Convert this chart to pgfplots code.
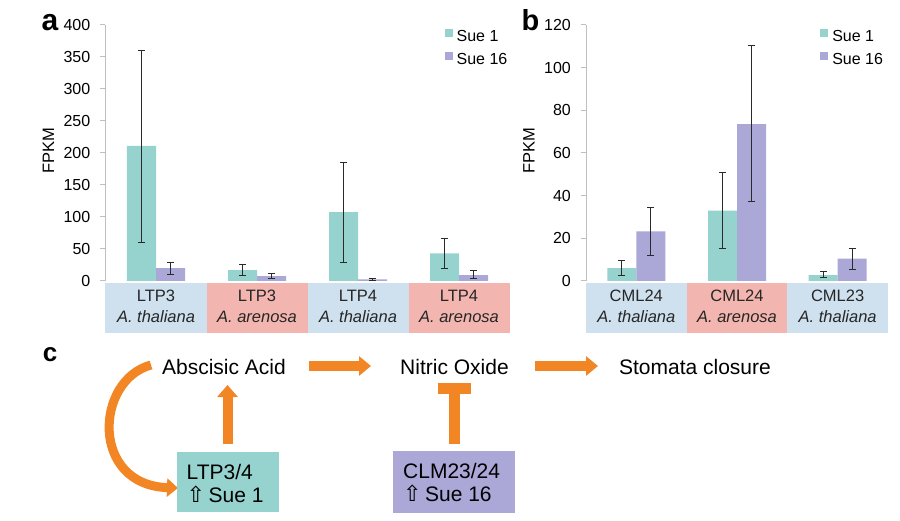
\documentclass[border=0pt]{standalone}
\usepackage{fontspec}
\setmainfont{Liberation Sans}
\newfontfamily\djv{DejaVu Sans}
\usepackage{pgfplots}
\usepackage{pgfplotstable}
\pgfplotsset{compat=1.18}
\usetikzlibrary{arrows.meta}
\definecolor{sueA}{HTML}{96D3CF}
\definecolor{sueB}{HTML}{ABA7D7}
\definecolor{bandB}{HTML}{CFE0EE}
\definecolor{bandP}{HTML}{F3B5B0}
\definecolor{orng}{HTML}{F28524}
\definecolor{axgray}{HTML}{BFBFBF}
\definecolor{errc}{HTML}{2A2A2A}

\pgfplotstableread{
x y ep em
0 211 150 150
1 17 9 9
2 107.5 78 79
3 43 24 23
}\aSueA
\pgfplotstableread{
x y ep em
0 20 9.4 9.4
1 7.5 3.8 2.8
2 2.6 1.6 1.6
3 9 7 4.3
}\aSueB
\pgfplotstableread{
x y ep em
0 6 3.4 3.2
1 33 18 17.7
2 2.8 1.9 1.3
}\bSueA
\pgfplotstableread{
x y ep em
0 23.3 11.1 11.2
1 73.5 37.1 36.3
2 10.5 4.7 5.3
}\bSueB

\newcommand{\catfont}{\fontsize{16.5}{21}\selectfont}
\pgfplotsset{
  panel/.style={
    scale only axis, height=256pt, ymin=0,
    axis x line=none, axis y line*=left,
    y axis line style={draw=axgray, line width=1pt, -},
    ytick style={draw=axgray, line width=1pt},
    major tick length=5pt, tick align=outside,
    /pgf/number format/assume math mode=true,
    every axis y label/.style={at={([xshift=-57pt]axis description cs:0,0.508)}, rotate=90, anchor=center, font=\fontsize{16.5}{20}\selectfont},
    ylabel={FPKM},
    ybar=0pt, bar width=29pt, clip=false,
    legend cell align=left,
    legend image code/.code={\fill[##1] (0pt,-0.5pt) rectangle (8pt,7.5pt);},
    legend style={anchor=north west, draw=none, fill=none, inner sep=0pt,
      font=\fontsize{16}{19}\selectfont, row sep=9pt, /tikz/column sep=4pt,
      nodes={inner sep=0pt}},
  },
  errs/.style={error bars/.cd, y dir=both, y explicit,
      error bar style={errc, line width=0.9pt},
      error mark options={errc, rotate=90, mark size=3.6pt, line width=0.9pt}},
}

\begin{document}
\begin{tikzpicture}
\useasboundingbox (0pt,0pt) rectangle (900pt,-521pt);

% ---------- panel a ----------
\begin{axis}[panel, at={(105.5pt,-281pt)}, anchor=south west, width=404pt,
  xmin=-0.5, xmax=3.5, ymax=400, ytick={0,50,...,400},
  every y tick label/.append style={font=\fontsize{16}{19}\selectfont, inner sep=0pt, xshift=-10pt},
  legend style={at={(0.839,0.984)}}]
\addplot[fill=sueA, draw=none, errs] table[x=x, y=y, y error plus=ep, y error minus=em]{\aSueA};
\addplot[fill=sueB, draw=none, errs] table[x=x, y=y, y error plus=ep, y error minus=em]{\aSueB};
\legend{Sue 1, Sue 16}
\fill[bandB] ([yshift=-2pt]axis cs:-0.5,0) rectangle ([yshift=-52pt]axis cs:0.5,0);
\fill[bandP] ([yshift=-2pt]axis cs:0.5,0) rectangle ([yshift=-52pt]axis cs:1.5,0);
\fill[bandB] ([yshift=-2pt]axis cs:1.5,0) rectangle ([yshift=-52pt]axis cs:2.5,0);
\fill[bandP] ([yshift=-2pt]axis cs:2.5,0) rectangle ([yshift=-52pt]axis cs:3.5,0);
\node[anchor=north, inner sep=0pt, align=center, font=\catfont, text=black!85] at ([yshift=-9pt]axis cs:0,0) {LTP3\\\textit{A. thaliana}};
\node[anchor=north, inner sep=0pt, align=center, font=\catfont, text=black!85] at ([yshift=-9pt]axis cs:1,0) {LTP3\\\textit{A. arenosa}};
\node[anchor=north, inner sep=0pt, align=center, font=\catfont, text=black!85] at ([yshift=-9pt]axis cs:2,0) {LTP4\\\textit{A. thaliana}};
\node[anchor=north, inner sep=0pt, align=center, font=\catfont, text=black!85] at ([yshift=-9pt]axis cs:3,0) {LTP4\\\textit{A. arenosa}};
\end{axis}

% ---------- panel b ----------
\begin{axis}[panel, at={(586pt,-281pt)}, anchor=south west, width=302pt,
  xmin=-0.5, xmax=2.5, ymax=120, ytick={0,20,...,120},
  every y tick label/.append style={font=\fontsize{16}{19}\selectfont, inner sep=0pt, xshift=-10pt},
  legend style={at={(0.775,0.984)}}]
\addplot[fill=sueA, draw=none, errs] table[x=x, y=y, y error plus=ep, y error minus=em]{\bSueA};
\addplot[fill=sueB, draw=none, errs] table[x=x, y=y, y error plus=ep, y error minus=em]{\bSueB};
\legend{Sue 1, Sue 16}
\fill[bandB] ([yshift=-2pt]axis cs:-0.5,0) rectangle ([yshift=-52pt]axis cs:0.5,0);
\fill[bandP] ([yshift=-2pt]axis cs:0.5,0) rectangle ([yshift=-52pt]axis cs:1.5,0);
\fill[bandB] ([yshift=-2pt]axis cs:1.5,0) rectangle ([yshift=-52pt]axis cs:2.5,0);
\node[anchor=north, inner sep=0pt, align=center, font=\catfont, text=black!85] at ([yshift=-9pt]axis cs:0,0) {CML24\\\textit{A. thaliana}};
\node[anchor=north, inner sep=0pt, align=center, font=\catfont, text=black!85] at ([yshift=-9pt]axis cs:1,0) {CML24\\\textit{A. arenosa}};
\node[anchor=north, inner sep=0pt, align=center, font=\catfont, text=black!85] at ([yshift=-9pt]axis cs:2,0) {CML23\\\textit{A. thaliana}};
\end{axis}

% ---------- labels and panel c ----------
\begin{scope}[x=1pt, y=-1pt]
\node[anchor=base, inner sep=0pt, font=\bfseries\fontsize{30}{30}\selectfont] at (50,31) {a};
\node[anchor=base, inner sep=0pt, font=\bfseries\fontsize{29}{29}\selectfont] at (530.5,31) {b};
\node[anchor=base, inner sep=0pt, font=\bfseries\fontsize{26}{26}\selectfont] at (50,362) {c};

\node[anchor=base, inner sep=0pt, font=\fontsize{21}{25}\selectfont] at (224,374) {Abscisic Acid};
\node[anchor=base, inner sep=0pt, font=\fontsize{21}{25}\selectfont] at (454.5,374) {Nitric Oxide};
\node[anchor=base, inner sep=0pt, font=\fontsize{21}{25}\selectfont] at (695,374) {Stomata closure};

\draw[orng, line width=10pt, -{Triangle[length=12pt, width=19pt]}] (309,366) -- (371,366);
\draw[orng, line width=10pt, -{Triangle[length=12pt, width=19pt]}] (535,366) -- (598,366);
\draw[orng, line width=10pt, -{Triangle[length=12pt, width=20pt]}] (227.5,444) -- (227.5,385);
\fill[orng] (448.5,393.5) rectangle (459.5,444);
\fill[orng] (437.5,383) rectangle (470.5,394);
\draw[orng, line width=9pt, -{Triangle[length=11pt, width=18pt]}] (151,365) .. controls (95,380) and (90,485) .. (178,488);

\fill[sueA] (177.3,451.5) rectangle (279,512);
\fill[sueB] (393.3,451) rectangle (515,512.5);
\node[anchor=base west, inner sep=0pt, font=\fontsize{21}{25}\selectfont] at (186.5,479) {LTP3/4};
\node[anchor=base west, inner sep=0pt, font=\fontsize{21}{25}\selectfont] at (186.5,502.5) {{\djv\fontsize{22}{24}\selectfont ⇧}\,Sue 1};
\node[anchor=base west, inner sep=0pt, font=\fontsize{21}{25}\selectfont] at (403,478.5) {CLM23/24};
\node[anchor=base west, inner sep=0pt, font=\fontsize{21}{25}\selectfont] at (403,501.5) {{\djv\fontsize{22}{24}\selectfont ⇧}\,Sue 16};
\end{scope}
\end{tikzpicture}
\end{document}
